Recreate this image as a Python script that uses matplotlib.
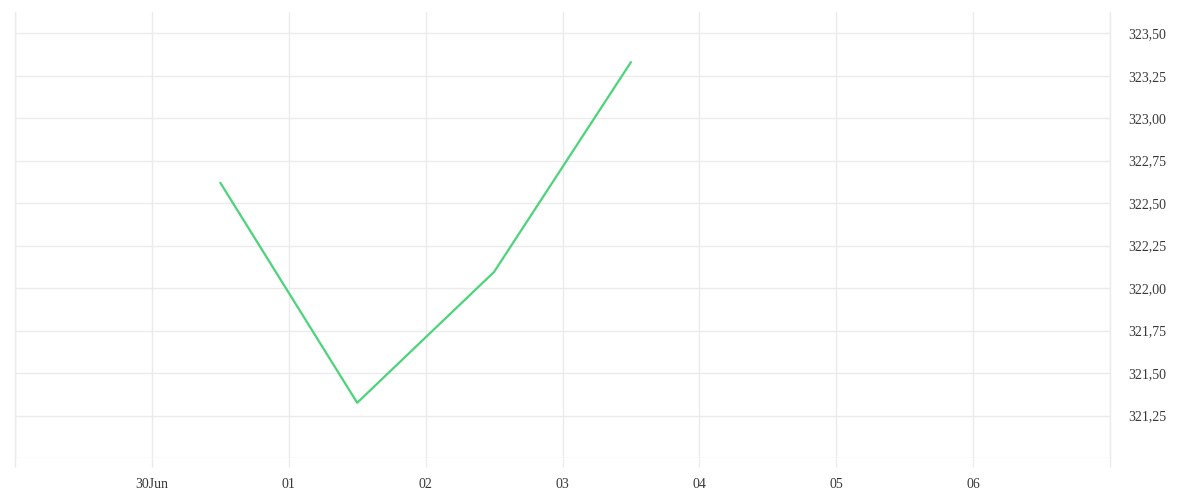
import numpy as np
import pandas as pd
import matplotlib
matplotlib.use("Agg")
import matplotlib.pyplot as plt
import matplotlib.dates as mdates
from matplotlib.ticker import FuncFormatter, FixedLocator

# data
dates = pd.to_datetime(["2023-06-30 12:00", "2023-07-01 12:00",
                        "2023-07-02 12:00", "2023-07-03 12:00"])
values = [322.62, 321.325, 322.095, 323.33]

day_ticks = pd.date_range("2023-06-29", "2023-07-07", freq="D")
day_labels = ["", "30Jun", "01", "02", "03", "04", "05", "06", ""]
y_ticks = [321.00, 321.25, 321.50, 321.75, 322.00, 322.25,
           322.50, 322.75, 323.00, 323.25, 323.50]

plt.rcParams['font.family'] = ['Liberation Serif', 'DejaVu Serif']
grid_c = '#ebebeb'
text_c = '#383838'

fig = plt.figure(figsize=(12, 5), dpi=100)
ax = fig.add_axes([15 / 1200, 42 / 500, 1095 / 1200, 446 / 500])

ax.plot(dates, values, color='#4cd47a', linewidth=1.6, solid_capstyle='round')

ax.set_xlim(day_ticks[0], day_ticks[-1])
ax.set_ylim(321.0, 323.625)

ax.xaxis.set_major_locator(FixedLocator(mdates.date2num(day_ticks)))
ax.set_xticklabels(day_labels)
ax.yaxis.set_major_locator(FixedLocator(y_ticks))
ax.yaxis.set_major_formatter(FuncFormatter(
    lambda v, p: "" if abs(v - 321.0) < 1e-6 else f"{v:.2f}".replace(".", ",")))
ax.yaxis.tick_right()

ax.grid(True, color=grid_c, linewidth=1)
ax.set_axisbelow(True)
for name, s in ax.spines.items():
    if name in ("left", "right"):
        s.set_color(grid_c)
        s.set_linewidth(1)
    else:
        s.set_visible(False)

ax.tick_params(axis='x', length=6.5, width=1, color=grid_c, pad=8,
               labelsize=10, labelcolor=text_c)
ax.tick_params(axis='y', length=0, pad=13, labelsize=10, labelcolor=text_c)

fig.savefig("out.png", dpi=100, facecolor='white')
